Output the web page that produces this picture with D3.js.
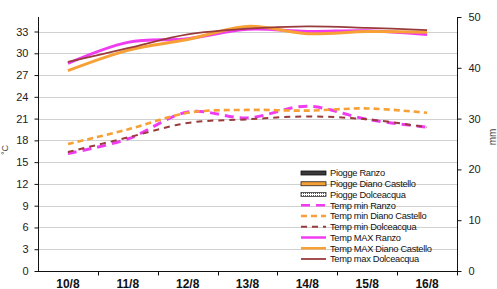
<!DOCTYPE html>
<html>
<head>
<meta charset="utf-8">
<script src="https://cdn.jsdelivr.net/npm/d3@7"></script>
<style>
    body { margin: 0; background: #fff; }
    svg { display: block; font-family: "Liberation Sans", Arial, sans-serif; }
</style>
</head>
<body>
<div id="chart"></div>
<script>
// dates on the x axis
const days = ['10/8', '11/8', '12/8', '13/8', '14/8', '15/8', '16/8'];

// rain (mm), right axis - nothing fell in these days
const rainRanzo = [0, 0, 0, 0, 0, 0, 0];
const rainDiano = [0, 0, 0, 0, 0, 0, 0];
const rainDolceacqua = [0, 0, 0, 0, 0, 0, 0];

// temperatures (°C), left axis
const minRanzo = [16.2, 18.2, 21.9, 21.1, 22.7, 20.9, 19.8];
const minDiano = [17.5, 19.5, 21.8, 22.2, 22.1, 22.4, 21.8];
const minDolceacqua = [16.4, 18.4, 20.4, 20.9, 21.3, 20.9, 19.8];
const maxRanzo = [28.6, 31.5, 32.0, 33.3, 33.0, 33.1, 32.6];
const maxDiano = [27.6, 30.4, 31.9, 33.7, 32.7, 33.0, 32.9];
const maxDolceacqua = [28.8, 30.7, 32.6, 33.4, 33.7, 33.5, 33.2];

const tempTicks = [0, 3, 6, 9, 12, 15, 18, 21, 24, 27, 30, 33];
const rainTicks = [0, 10, 20, 30, 40, 50];

const config = {
    width: 497,
    height: 289,
    left: 38,
    right: 457,
    top: 17,
    bottom: 271
};

const magenta = '#f03cf0';
const orange = '#f7a035';
const brown = '#9a3b3b';

const rainSeries = [
    { name: 'Piogge Ranzo', values: rainRanzo, fill: '#3a3a3a', stroke: '#111' },
    { name: 'Piogge Diano Castello', values: rainDiano, fill: orange, stroke: '#222' },
    { name: 'Piogge Dolceacqua', values: rainDolceacqua, fill: 'url(#hatch)', stroke: '#333' }
];

const tempSeries = [
    { name: 'Temp min Ranzo', values: minRanzo, color: magenta, width: 3, dash: '9,6' },
    { name: 'Temp min Diano Castello', values: minDiano, color: orange, width: 2.6, dash: '6,4' },
    { name: 'Temp min Dolceacqua', values: minDolceacqua, color: brown, width: 2, dash: '6,5' },
    { name: 'Temp MAX Ranzo', values: maxRanzo, color: magenta, width: 3, dash: null },
    { name: 'Temp MAX Diano Castello', values: maxDiano, color: orange, width: 3, dash: null },
    { name: 'Temp max Dolceacqua', values: maxDolceacqua, color: brown, width: 1.8, dash: null }
];

const svg = d3.select('#chart').append('svg')
    .attr('width', config.width)
    .attr('height', config.height);

const pattern = svg.append('defs').append('pattern')
    .attr('id', 'hatch')
    .attr('width', 2).attr('height', 2)
    .attr('patternUnits', 'userSpaceOnUse');
pattern.append('rect').attr('width', 2).attr('height', 2).attr('fill', '#fff');
pattern.append('rect').attr('width', 1).attr('height', 1).attr('fill', '#555');

const x = d3.scaleBand()
    .domain(days)
    .range([config.left, config.right])
    .padding(0);

const yTemp = d3.scaleLinear()
    .domain([0, 35])
    .range([config.bottom, config.top]);

const yRain = d3.scaleLinear()
    .domain([0, 50])
    .range([config.bottom, config.top]);

// grid lines
svg.append('g')
    .selectAll('line')
    .data(tempTicks.filter(t => t > 0))
    .enter().append('line')
        .attr('x1', config.left)
        .attr('x2', config.right)
        .attr('y1', d => Math.round(yTemp(d)) + 0.5)
        .attr('y2', d => Math.round(yTemp(d)) + 0.5)
        .attr('stroke', '#d0d0d0')
        .attr('stroke-width', 1);

// rain bars (all zero here)
const barX = d3.scaleBand()
    .domain(rainSeries.map(s => s.name))
    .range([0, x.bandwidth()])
    .paddingInner(0)
    .paddingOuter(0.6);

rainSeries.forEach(s => {
    svg.append('g')
        .selectAll('rect')
        .data(s.values)
        .enter().append('rect')
            .attr('x', (d, i) => x(days[i]) + barX(s.name))
            .attr('width', barX.bandwidth())
            .attr('y', d => yRain(d))
            .attr('height', d => yRain(0) - yRain(d))
            .attr('fill', s.fill)
            .attr('stroke', d => d > 0 ? s.stroke : 'none');
});

// temperature lines
const line = d3.line()
    .x((d, i) => x(days[i]) + x.bandwidth() / 2)
    .y(d => yTemp(d))
    .curve(d3.curveCardinal.tension(0));

tempSeries.forEach(s => {
    svg.append('path')
        .datum(s.values)
        .attr('d', line)
        .attr('fill', 'none')
        .attr('stroke', s.color)
        .attr('stroke-width', s.width)
        .attr('stroke-dasharray', s.dash);
});

// left axis
const leftAxis = svg.append('g')
    .attr('transform', 'translate(' + (config.left + 0.5) + ',0)')
    .call(d3.axisLeft(yTemp).tickValues(tempTicks).tickSize(4).tickPadding(6));
leftAxis.select('.domain').attr('d', 'M0,' + config.top + 'V' + config.bottom);

// right axis
const rightAxis = svg.append('g')
    .attr('transform', 'translate(' + (config.right + 0.5) + ',0)')
    .call(d3.axisRight(yRain).tickValues(rainTicks).tickSize(4).tickPadding(7));
rightAxis.select('.domain').attr('d', 'M0,' + config.top + 'V' + config.bottom);

[leftAxis, rightAxis].forEach(a => {
    a.selectAll('text')
        .attr('font-family', '"Liberation Sans", Arial, sans-serif')
        .attr('font-size', 11)
        .attr('fill', '#222');
    a.selectAll('line, path').attr('stroke', '#111');
});

// x axis, ticks between the days
const xAxis = svg.append('g')
    .attr('transform', 'translate(0,' + (config.bottom + 0.5) + ')');
xAxis.append('line')
    .attr('x1', config.left)
    .attr('x2', config.right + 1)
    .attr('stroke', '#111');
xAxis.selectAll('.tick')
    .data(days)
    .enter().append('line')
        .attr('x1', d => Math.round(x(d) + x.bandwidth()) + 0.5)
        .attr('x2', d => Math.round(x(d) + x.bandwidth()) + 0.5)
        .attr('y1', 0)
        .attr('y2', 4)
        .attr('stroke', '#111');
xAxis.selectAll('text')
    .data(days)
    .enter().append('text')
        .attr('x', d => x(d) + x.bandwidth() / 2)
        .attr('y', 16)
        .attr('text-anchor', 'middle')
        .attr('font-size', 12)
        .attr('font-weight', 'bold')
        .attr('fill', '#111')
        .text(d => d);

// axis titles
svg.append('text')
    .attr('transform', 'translate(8,150) rotate(-90)')
    .attr('text-anchor', 'middle')
    .attr('font-size', 9)
    .attr('fill', '#444')
    .text('°C');
svg.append('text')
    .attr('transform', 'translate(496,137) rotate(-90)')
    .attr('text-anchor', 'middle')
    .attr('font-size', 10)
    .attr('fill', '#444')
    .text('mm');

// legend
const legend = svg.append('g')
    .attr('transform', 'translate(301,173)');
const rowH = 10.75;

rainSeries.forEach((s, i) => {
    legend.append('rect')
        .attr('x', 0)
        .attr('y', i * rowH - 2)
        .attr('width', 25)
        .attr('height', 4)
        .attr('fill', s.fill)
        .attr('stroke', s.stroke)
        .attr('stroke-width', 0.8);
});

tempSeries.forEach((s, j) => {
    const i = j + rainSeries.length;
    legend.append('line')
        .attr('x1', 0)
        .attr('x2', 25)
        .attr('y1', i * rowH)
        .attr('y2', i * rowH)
        .attr('stroke', s.color)
        .attr('stroke-width', Math.min(s.width, 2.5))
        .attr('stroke-dasharray', s.dash);
});

legend.selectAll('text')
    .data(rainSeries.concat(tempSeries))
    .enter().append('text')
        .attr('x', 29)
        .attr('y', (d, i) => i * rowH + 3.3)
        .attr('font-size', 9.3)
        .attr('letter-spacing', -0.3)
        .attr('fill', '#111')
        .text(d => d.name);
</script>
</body>
</html>
